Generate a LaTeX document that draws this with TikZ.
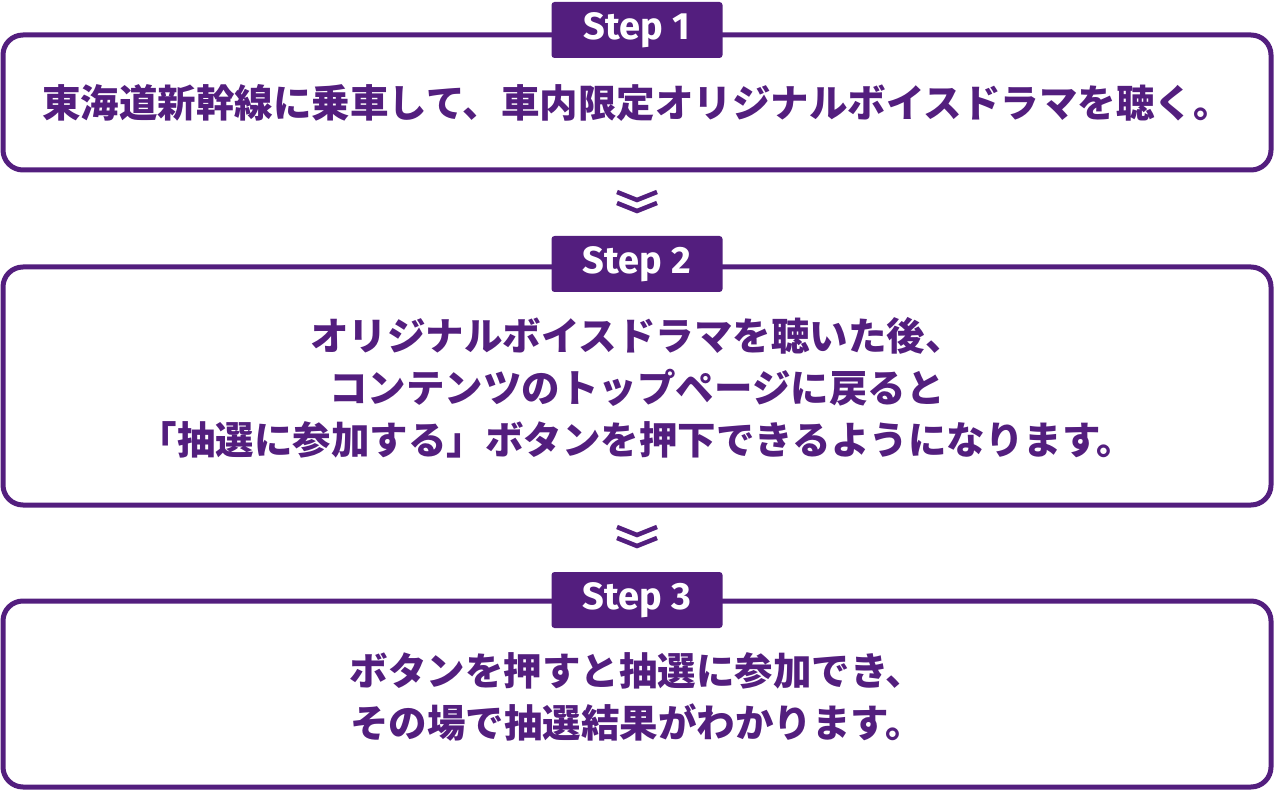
\documentclass[tikz,border=0pt]{standalone}
\usepackage{fontspec}
\newfontfamily\cjk[BoldFont={Noto Sans CJK JP Black}]{Noto Sans CJK JP}
\newfontfamily\lab{Fira Sans}
\definecolor{pur}{HTML}{531E7E}
\begin{document}
\begin{tikzpicture}[x=1pt,y=-1pt,
  box/.style={draw=pur,line width=5pt,rounded corners=20pt},
  tag/.style={fill=pur,rounded corners=3pt,minimum width=171pt,minimum height=56pt,inner sep=0pt,text=white,font=\lab\bfseries\fontsize{38}{38}\selectfont},
  txt/.style={text=pur,font=\cjk\bfseries\fontsize{38.5}{52}\selectfont,align=center},
  chev/.style={draw=pur,line width=4.5pt}]
\useasboundingbox (0,0) rectangle (1274,791);
\draw[box] (3,35) rectangle (1271,170);
\draw[box] (3,267) rectangle (1271,505);
\draw[box] (3,601) rectangle (1271,787);
\node[tag] (s1) at (637,30) {Step 1};
\node[tag] (s2) at (637,264) {Step 2};
\node[tag] (s3) at (637,600) {Step 3};
\node[txt] (t1) at (637,103) {東海道新幹線に乗車して、車内限定オリジナルボイスドラマを聴く。};
\node[txt] (t2) at (637,388) {オリジナルボイスドラマを聴いた後、\\コンテンツのトップページに戻ると\\「抽選に参加する」ボタンを押下できるようになります。};
\node[txt] (t3) at (637,697) {ボタンを押すと抽選に参加でき、\\その場で抽選結果がわかります。};
\foreach \y in {192,527}{
  \draw[chev] (617,\y) -- (637,\y+8) -- (657,\y);
  \draw[chev] (617,\y+11) -- (637,\y+19) -- (657,\y+11);
}
\end{tikzpicture}
\end{document}
